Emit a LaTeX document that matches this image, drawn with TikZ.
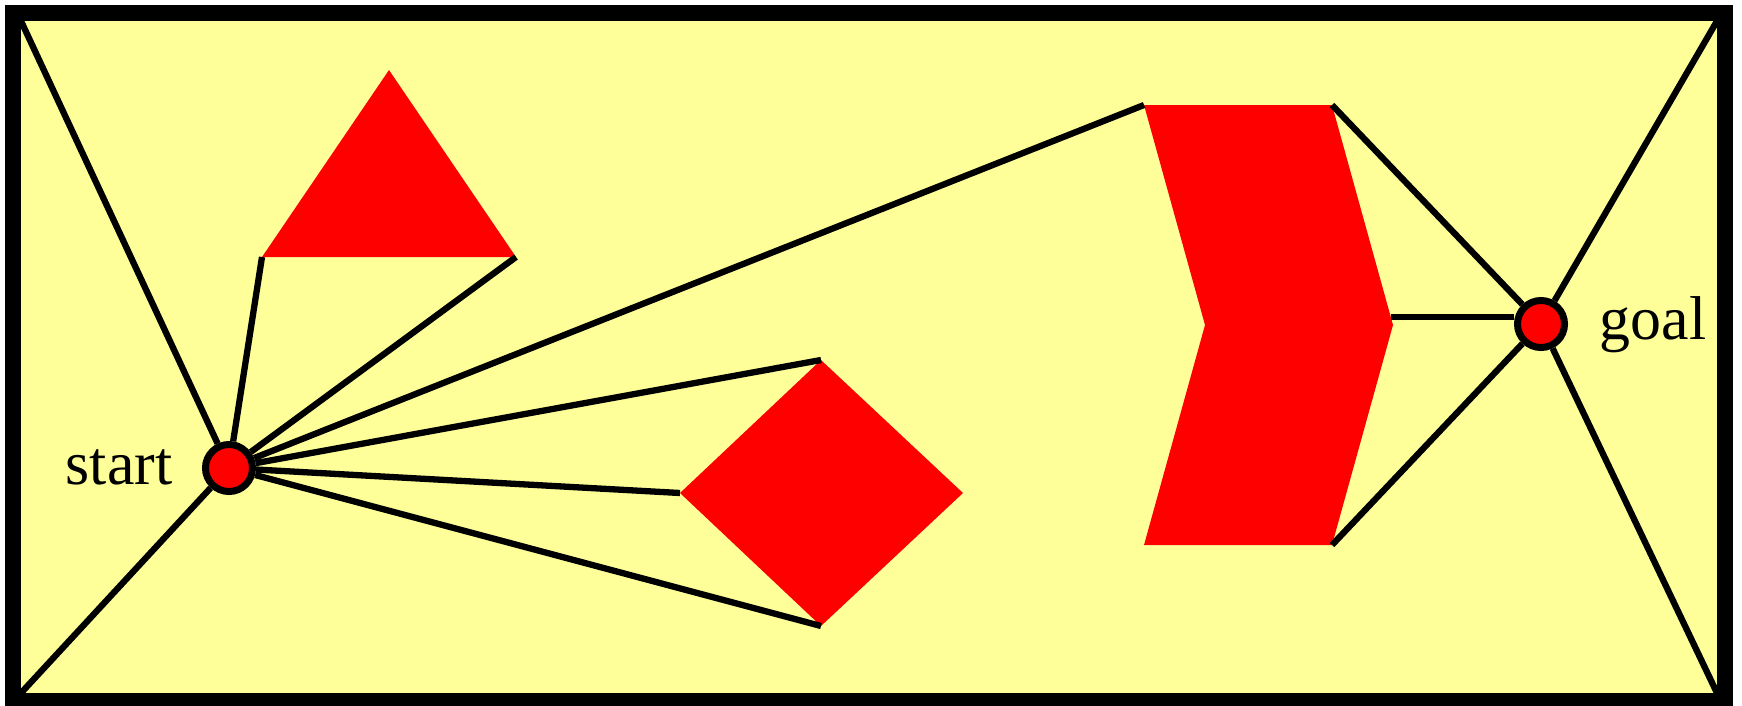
\documentclass[tikz,border=0pt]{standalone}
\usepackage{fontspec}
\setmainfont{Liberation Serif}
\definecolor{paper}{HTML}{FFFF99}
\begin{document}
\begin{tikzpicture}[x=0.01cm,y=-0.01cm,
  edge/.style={line width=0.063cm,draw=black},
  obstacle/.style={fill=red,draw=none},
  vertex/.style={circle,fill=red,draw=black,line width=0.07cm,minimum size=0.47cm,inner sep=0pt},
  lbl/.style={inner sep=0pt,font=\fontsize{17.6}{20}\selectfont}]
\useasboundingbox (0,0) rectangle (1742,705);
% frame
\draw[line width=0.16cm,fill=paper] (13,13) rectangle (1725,701);
% frame corners
\coordinate (kTL) at (21,21);
\coordinate (kBL) at (21,693);
\coordinate (kTR) at (1717,21);
\coordinate (kBR) at (1717,693);
% triangle
\coordinate (tA) at (389,70);
\coordinate (tL) at (262,257);
\coordinate (tR) at (516,257);
% diamond
\coordinate (dT) at (821,360);
\coordinate (dL) at (680,493);
\coordinate (dR) at (963,493);
\coordinate (dB) at (821,626);
% chevron
\coordinate (cTL) at (1144,105);
\coordinate (cTR) at (1332,105);
\coordinate (cR) at (1393,325);
\coordinate (cBR) at (1332,545);
\coordinate (cBL) at (1144,545);
\coordinate (cI) at (1205,325);
\coordinate (cRl) at (1391,317);
% obstacles
\fill[obstacle] (tA) -- (tL) -- (tR) -- cycle;
\fill[obstacle] (dT) -- (dR) -- (dB) -- (dL) -- cycle;
\fill[obstacle] (cTL) -- (cTR) -- (cR) -- (cBR) -- (cBL) -- (cI) -- cycle;
% start and goal
\node[vertex] (start) at (229,468) {};
\node[vertex] (goal) at (1541,324) {};
\node[lbl,anchor=base east] (startlbl) at (173,484) {start};
\node[lbl,anchor=base west] (goallbl) at (1599,339) {goal};
% visibility edges from start
\draw[edge] (start) -- (kTL);
\draw[edge] (start) -- (kBL);
\draw[edge] (start) -- (tL);
\draw[edge] (start) -- (tR);
\draw[edge] (start) -- (cTL);
\draw[edge] (start) -- (dT);
\draw[edge] (start) -- (dL);
\draw[edge] (start) -- (dB);
% visibility edges to goal
\draw[edge] (cTR) -- (goal);
\draw[edge] (cRl) -- (goal.west |- cRl);
\draw[edge] (cBR) -- (goal);
\draw[edge] (goal) -- (kTR);
\draw[edge] (goal) -- (kBR);
\end{tikzpicture}
\end{document}
